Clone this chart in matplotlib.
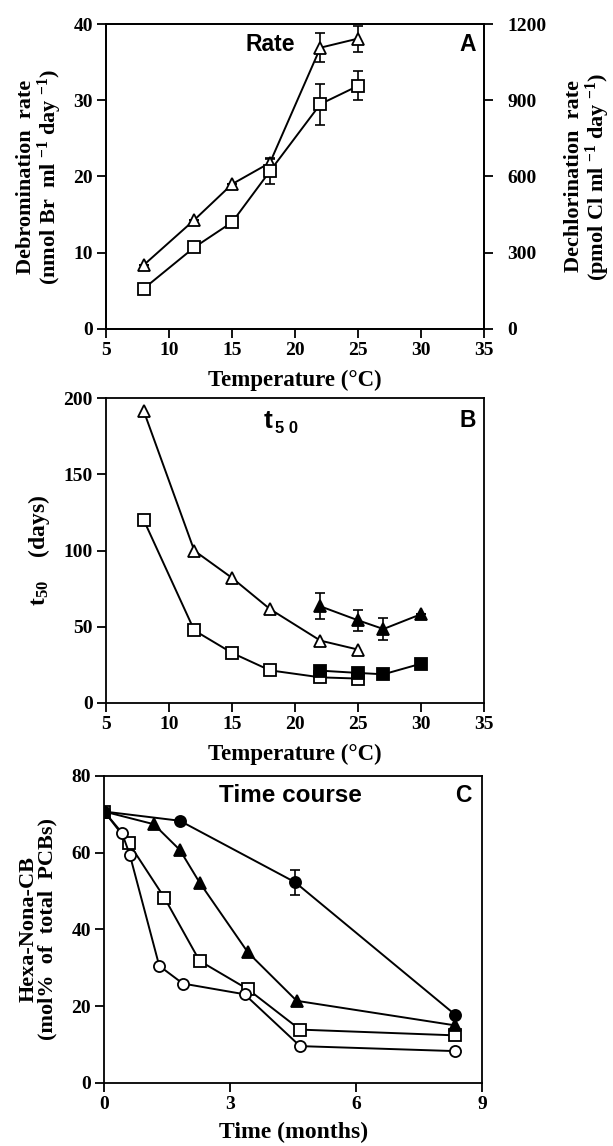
import matplotlib.pyplot as plt, numpy as np

plt.rcParams["mathtext.fontset"] = "custom"
plt.rcParams["mathtext.rm"] = "Liberation Serif:bold"
plt.rcParams["mathtext.bf"] = "Liberation Serif:bold"
plt.rcParams["mathtext.it"] = "Liberation Serif:bold"

# panel A: rate vs temperature (left-axis units; right axis = x30)
temp_a = [8, 12, 15, 18, 22, 25]
rate_tri = [8.4, 14.3, 19.0, 21.8, 36.9, 38.1]
rate_tri_err = [0, 0, 0, 0.5, 1.9, 1.7]
rate_sq = [5.3, 10.7, 14.0, 20.7, 29.5, 31.9]
rate_sq_err = [0, 0, 0, 1.7, 2.7, 1.9]

# panel B: t50 vs temperature
temp_b_open = [8, 12, 15, 18, 22, 25]
t50_tri_open = [191.3, 99.9, 82.0, 61.6, 40.9, 35.0]
t50_sq_open = [119.8, 47.6, 32.8, 21.4, 16.8, 16.0]
temp_b_fill = [22, 25, 27, 30]
t50_tri_fill = [63.4, 54.2, 48.5, 58.3]
t50_tri_fill_err = [8.5, 7.0, 7.0, 0]
t50_sq_fill = [21.2, 19.7, 18.8, 25.8]

# panel C: time course
t_circ_fill = [0, 1.80, 4.54, 8.35]
y_circ_fill = [70.7, 68.3, 52.3, 17.8]
y_circ_fill_err = [0, 0, 3.3, 0]
t_tri_fill = [0, 1.18, 1.80, 2.27, 3.42, 4.58, 8.35]
y_tri_fill = [70.7, 67.4, 60.7, 52.2, 34.0, 21.4, 15.0]
t_sq_open = [0, 0.59, 1.43, 2.27, 3.42, 4.66, 8.35]
y_sq_open = [70.7, 62.4, 48.3, 31.8, 24.4, 13.9, 12.4]
t_circ_open = [0, 0.42, 0.61, 1.31, 1.87, 3.34, 4.66, 8.35]
y_circ_open = [70.7, 65.2, 59.4, 30.5, 25.9, 23.1, 9.6, 8.3]

serif = {"family": "Liberation Serif", "weight": "bold"}
sans = {"family": "Liberation Sans", "weight": "bold"}
lw = 1.4

def style(ax, pad=3):
    for s in ax.spines.values():
        s.set_linewidth(1.3)
    ax.tick_params(direction="out", length=6.5, width=1.3, labelsize=14, pad=pad)
    for lab in ax.get_xticklabels() + ax.get_yticklabels():
        lab.set_fontfamily("Liberation Serif"); lab.set_fontweight("bold")

def series(ax, x, y, marker, filled, ms=8, err=None, z=3):
    fc = "black" if filled else "white"
    if err is not None:
        ax.errorbar(x, y, yerr=err, fmt="none", ecolor="black", elinewidth=1.2, capsize=3.5, capthick=1.2, zorder=2)
    ax.plot(x, y, color="black", lw=lw, marker=marker, ms=ms, mfc=fc, mec="black", mew=1.3, zorder=z)

fig = plt.figure(figsize=(6.13, 11.46), dpi=100)

# A
axA = fig.add_axes([0.173, 0.713, 0.617, 0.266])
series(axA, temp_a, rate_tri, "^", False, 9, rate_tri_err)
series(axA, temp_a, rate_sq, "s", False, 8, rate_sq_err)
axA.set_xlim(5, 35); axA.set_ylim(0, 40)
axA.set_xticks(range(5, 36, 5)); axA.set_yticks(range(0, 41, 10))
axA.set_xlabel("Temperature (°C)", fontsize=16.5, labelpad=8, **serif)
axA.set_ylabel("Debromination  rate\n(nmol Br  ml $^{-1}$ day $^{-1}$)", fontsize=16, linespacing=0.95, labelpad=7, **serif)
axA.text(18.0, 37.3, "Rate", ha="center", va="center", fontsize=16.5, **sans)
axA.text(33.65, 37.3, "A", ha="center", va="center", fontsize=16.5, **sans)
style(axA)
axA2 = axA.twinx()
axA2.set_ylim(0, 1200); axA2.set_yticks(range(0, 1201, 300))
axA2.set_ylabel("Dechlorination  rate\n(pmol Cl ml $^{-1}$ day $^{-1}$)", fontsize=16, linespacing=0.95, labelpad=13, **serif)
style(axA2, pad=10)

# B
axB = fig.add_axes([0.173, 0.3866, 0.617, 0.266])
series(axB, temp_b_open, t50_tri_open, "^", False, 9)
series(axB, temp_b_open, t50_sq_open, "s", False, 8)
series(axB, temp_b_fill, t50_tri_fill, "^", True, 9, t50_tri_fill_err)
series(axB, temp_b_fill, t50_sq_fill, "s", True, 8)
axB.set_xlim(5, 35); axB.set_ylim(0, 200)
axB.set_xticks(range(5, 36, 5)); axB.set_yticks(range(0, 201, 50))
axB.set_xlabel("Temperature (°C)", fontsize=16.5, labelpad=8, **serif)
axB.set_ylabel("t$_{50}$    (days)", fontsize=17, labelpad=8, **serif)
axB.text(18.2, 185, "t", ha="right", va="center", fontsize=19, **sans)
axB.text(18.4, 180, "5 0", ha="left", va="center", fontsize=12, **sans)
axB.text(33.7, 185, "B", ha="center", va="center", fontsize=16.5, **sans)
style(axB)

# C
axC = fig.add_axes([0.170, 0.055, 0.617, 0.268])
series(axC, t_sq_open, y_sq_open, "s", False, 8)
series(axC, t_circ_open, y_circ_open, "o", False, 8)
series(axC, t_circ_fill, y_circ_fill, "o", True, 8, y_circ_fill_err, z=4)
series(axC, t_tri_fill, y_tri_fill, "^", True, 9, z=4)
axC.set_xlim(0, 9); axC.set_ylim(0, 80)
axC.set_xticks(range(0, 10, 3)); axC.set_yticks(range(0, 81, 20))
axC.set_xlabel("Time (months)", fontsize=17, labelpad=6, **serif)
axC.set_ylabel("Hexa-Nona-CB\n(mol%  of  total  PCBs)", fontsize=16, linespacing=0.95, labelpad=10, **serif)
axC.text(4.43, 75, "Time course", ha="center", va="center", fontsize=17.5, **sans)
axC.text(8.55, 75, "C", ha="center", va="center", fontsize=16.5, **sans)
style(axC)

fig.savefig("out.png", dpi=100)
